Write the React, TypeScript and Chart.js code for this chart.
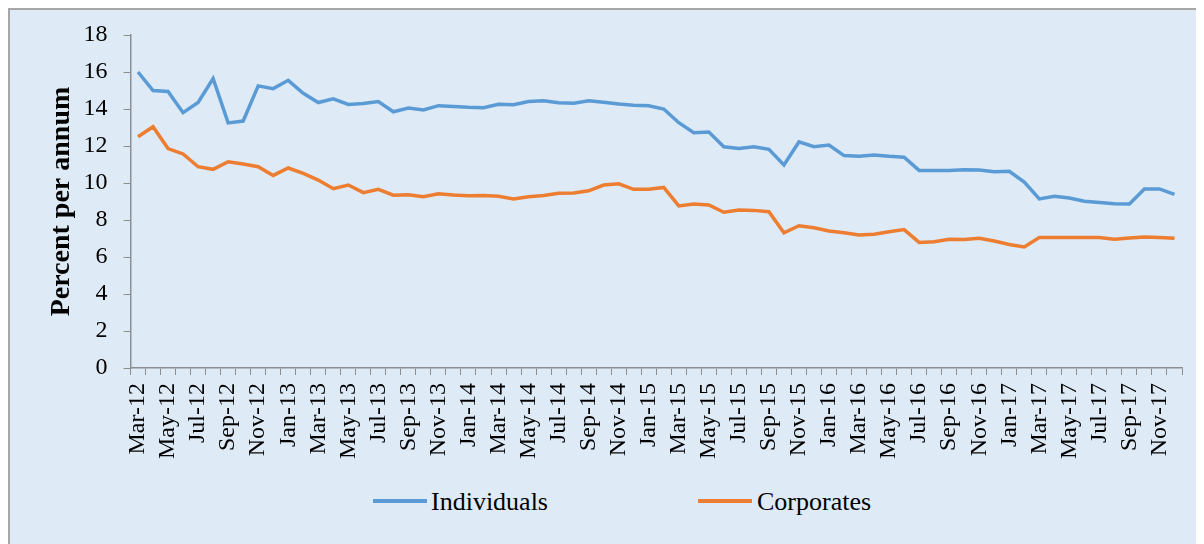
import React, { useEffect, useRef } from "react";
import { Chart, registerables } from "chart.js";

Chart.register(...registerables);

const months: string[] = [
  "Mar-12", "Apr-12", "May-12", "Jun-12", "Jul-12", "Aug-12", "Sep-12", "Oct-12", "Nov-12", "Dec-12",
  "Jan-13", "Feb-13", "Mar-13", "Apr-13", "May-13", "Jun-13", "Jul-13", "Aug-13", "Sep-13", "Oct-13", "Nov-13", "Dec-13",
  "Jan-14", "Feb-14", "Mar-14", "Apr-14", "May-14", "Jun-14", "Jul-14", "Aug-14", "Sep-14", "Oct-14", "Nov-14", "Dec-14",
  "Jan-15", "Feb-15", "Mar-15", "Apr-15", "May-15", "Jun-15", "Jul-15", "Aug-15", "Sep-15", "Oct-15", "Nov-15", "Dec-15",
  "Jan-16", "Feb-16", "Mar-16", "Apr-16", "May-16", "Jun-16", "Jul-16", "Aug-16", "Sep-16", "Oct-16", "Nov-16", "Dec-16",
  "Jan-17", "Feb-17", "Mar-17", "Apr-17", "May-17", "Jun-17", "Jul-17", "Aug-17", "Sep-17", "Oct-17", "Nov-17", "Dec-17",
];

const individuals: number[] = [
  16.0, 15.0, 14.95, 13.8, 14.35, 15.65, 13.25, 13.35, 15.25, 15.1,
  15.55, 14.85, 14.35, 14.55, 14.25, 14.3, 14.4, 13.85, 14.05, 13.95,
  14.18, 14.13, 14.09, 14.07, 14.25, 14.23, 14.4, 14.45, 14.34, 14.31,
  14.45, 14.36, 14.27, 14.2, 14.18, 14.0, 13.26, 12.72, 12.76, 11.96,
  11.86, 11.96, 11.82, 10.97, 12.22, 11.96, 12.05, 11.48, 11.44, 11.51,
  11.44, 11.39, 10.68, 10.67, 10.67, 10.72, 10.7, 10.61, 10.63, 10.05,
  9.14, 9.28, 9.19, 9.01, 8.94, 8.88, 8.86, 9.68, 9.68, 9.39,
];

const corporates: number[] = [
  12.5, 13.04, 11.86, 11.57, 10.88, 10.74, 11.15, 11.03, 10.88, 10.41,
  10.81, 10.52, 10.16, 9.69, 9.89, 9.48, 9.66, 9.34, 9.37, 9.26,
  9.42, 9.35, 9.31, 9.33, 9.28, 9.14, 9.26, 9.33, 9.44, 9.46,
  9.58, 9.89, 9.96, 9.66, 9.66, 9.76, 8.76, 8.86, 8.81, 8.42,
  8.54, 8.52, 8.45, 7.31, 7.69, 7.58, 7.41, 7.31, 7.19, 7.23,
  7.37, 7.48, 6.79, 6.83, 6.96, 6.94, 7.01, 6.86, 6.68, 6.54,
  7.05, 7.05, 7.05, 7.06, 7.06, 6.96, 7.03, 7.08, 7.05, 7.01,
];

const seriesNames: string[] = ["Individuals", "Corporates"];
const seriesColors: string[] = ["#5B9BD5", "#ED7D31"];
const yAxisTitle = "Percent per annum";

const FONT = '"Liberation Serif", "Times New Roman", serif';
const AXIS_GRAY = "#8E8E8E";

const CANVAS_W = 1227;
const CANVAS_H = 460;

export default function App() {
  const ref = useRef<HTMLCanvasElement | null>(null);

  useEffect(() => {
    document.documentElement.style.overflow = "hidden";
    document.body.style.overflow = "hidden";
    const canvas = ref.current;
    if (!canvas) return;
    const chart = new Chart(canvas, {
      type: "line",
      data: {
        labels: months,
        datasets: [
          {
            label: seriesNames[0],
            data: individuals,
            borderColor: seriesColors[0],
            backgroundColor: seriesColors[0],
            borderWidth: 3.5,
            pointRadius: 0,
            tension: 0,
          },
          {
            label: seriesNames[1],
            data: corporates,
            borderColor: seriesColors[1],
            backgroundColor: seriesColors[1],
            borderWidth: 3.5,
            pointRadius: 0,
            tension: 0,
          },
        ],
      },
      options: {
        responsive: false,
        animation: false,
        devicePixelRatio: 1,
        layout: { padding: { top: 25, right: CANVAS_W - 1172, bottom: 0, left: 0 } },
        plugins: { legend: { display: false }, tooltip: { enabled: false } },
        scales: {
          x: {
            type: "category",
            offset: true,
            grid: {
              offset: true,
              drawOnChartArea: false,
              drawTicks: true,
              tickLength: 7,
              color: AXIS_GRAY,
              lineWidth: 1,
            },
            border: { color: AXIS_GRAY, width: 1.5 },
            ticks: {
              autoSkip: false,
              maxRotation: 90,
              minRotation: 90,
              padding: 8,
              color: "#000",
              font: { family: FONT, size: 24 },
              callback: (_v: any, i: number) => (i % 2 === 0 ? months[i] : ""),
            },
            afterFit: (s: any) => {
              s.height = CANVAS_H - 358;
            },
          },
          y: {
            min: 0,
            max: 18,
            ticks: {
              stepSize: 2,
              padding: 16,
              color: "#000",
              font: { family: FONT, size: 24 },
            },
            grid: { drawOnChartArea: false, drawTicks: true, tickLength: 7, color: AXIS_GRAY },
            border: { color: AXIS_GRAY, width: 1.5 },
            title: {
              display: true,
              text: yAxisTitle,
              color: "#000",
              font: { family: FONT, size: 28, weight: "bold" },
              padding: { top: 35, bottom: 0 },
            },
            afterFit: (s: any) => {
              s.width = 120.5;
              s.paddingTop = 0;
              s.paddingBottom = 0;
            },
          },
        },
      },
    });
    return () => chart.destroy();
  }, []);

  const legendItem = (i: number, swatchLeft: number, textLeft: number) => (
    <React.Fragment key={seriesNames[i]}>
      <div
        style={{
          position: "absolute",
          left: swatchLeft,
          top: 489,
          width: 54,
          height: 4,
          background: seriesColors[i],
        }}
      />
      <div
        style={{
          position: "absolute",
          left: textLeft,
          top: 477,
          lineHeight: "30px",
          fontFamily: FONT,
          fontSize: 26,
          color: "#000",
          whiteSpace: "nowrap",
        }}
      >
        {seriesNames[i]}
      </div>
    </React.Fragment>
  );

  return (
    <div
      style={{
        position: "relative",
        width: 1196,
        height: 536,
        overflow: "hidden",
        background: "#DEEAF6",
        borderLeft: "2px solid #A6A6A6",
        borderTop: "2px solid #A6A6A6",
        boxSizing: "border-box",
      }}
    >
      <canvas
        ref={ref}
        width={CANVAS_W}
        height={CANVAS_H}
        style={{ position: "absolute", left: 0, top: 0, width: CANVAS_W, height: CANVAS_H }}
      />
      {legendItem(0, 363, 421)}
      {legendItem(1, 688, 747)}
    </div>
  );
}
